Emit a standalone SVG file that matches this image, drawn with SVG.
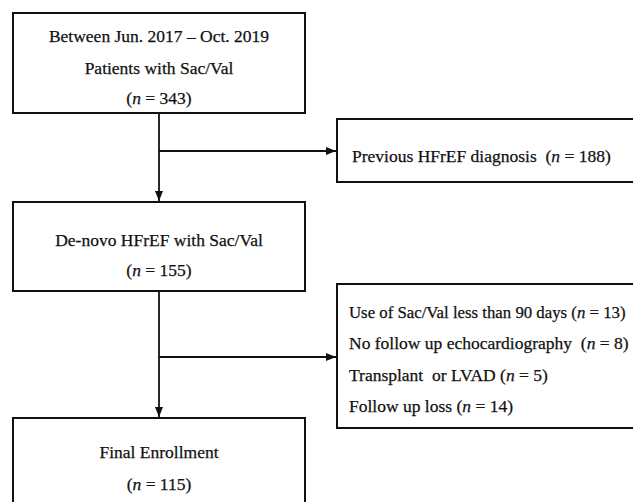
<svg xmlns="http://www.w3.org/2000/svg" width="633" height="502" viewBox="0 0 633 502">
<style>
.box{fill:#fff;stroke:#111;stroke-width:2}
.t{font-family:"Liberation Serif","Times New Roman",serif;font-size:17.5px;fill:#111;stroke:#111;stroke-width:0.25;white-space:pre}
.c{text-anchor:middle}
.i{font-style:italic}
.ln{stroke:#111;stroke-width:1.8;fill:none}
</style>
<defs>
<marker id="ah" viewBox="0 0 10 10" refX="10" refY="5" markerWidth="10" markerHeight="10" markerUnits="userSpaceOnUse" orient="auto">
<path d="M0,1 L10,5 L0,9 Z" fill="#111"/>
</marker>
</defs>
<rect width="633" height="502" fill="#fff"/>
<g id="connectors">
<path class="ln" d="M159,113 V201" marker-end="url(#ah)"/>
<path class="ln" d="M159,151 H336" marker-end="url(#ah)"/>
<path class="ln" d="M159,291 V417" marker-end="url(#ah)"/>
<path class="ln" d="M159,357 H336" marker-end="url(#ah)"/>
</g>
<g id="n1">
<rect class="box" x="13" y="13" width="292" height="100"/>
<text class="t c" x="159" y="42">Between Jun. 2017 – Oct. 2019</text>
<text class="t c" x="159" y="74">Patients with Sac/Val</text>
<text class="t c" x="159" y="104">(<tspan class="i">n</tspan> = 343)</text>
</g>
<g id="n2">
<rect class="box" x="337" y="119" width="310" height="63"/>
<text class="t" x="352" y="162">Previous HFrEF diagnosis  (<tspan class="i">n</tspan> = 188)</text>
</g>
<g id="n3">
<rect class="box" x="13" y="202" width="292" height="89"/>
<text class="t c" x="159" y="246">De-novo HFrEF with Sac/Val</text>
<text class="t c" x="159" y="276">(<tspan class="i">n</tspan> = 155)</text>
</g>
<g id="n4">
<rect class="box" x="337" y="284" width="310" height="144"/>
<text class="t" x="349" y="318" style="font-size:16.8px">Use of Sac/Val less than 90 days (<tspan class="i">n</tspan> = 13)</text>
<text class="t" x="349" y="349">No follow up echocardiography  (<tspan class="i">n</tspan> = 8)</text>
<text class="t" x="349" y="381">Transplant  or LVAD (<tspan class="i">n</tspan> = 5)</text>
<text class="t" x="349" y="412">Follow up loss (<tspan class="i">n</tspan> = 14)</text>
</g>
<g id="n5">
<rect class="box" x="13" y="418" width="292" height="100"/>
<text class="t c" x="159" y="458">Final Enrollment</text>
<text class="t c" x="159" y="490">(<tspan class="i">n</tspan> = 115)</text>
</g>
</svg>
